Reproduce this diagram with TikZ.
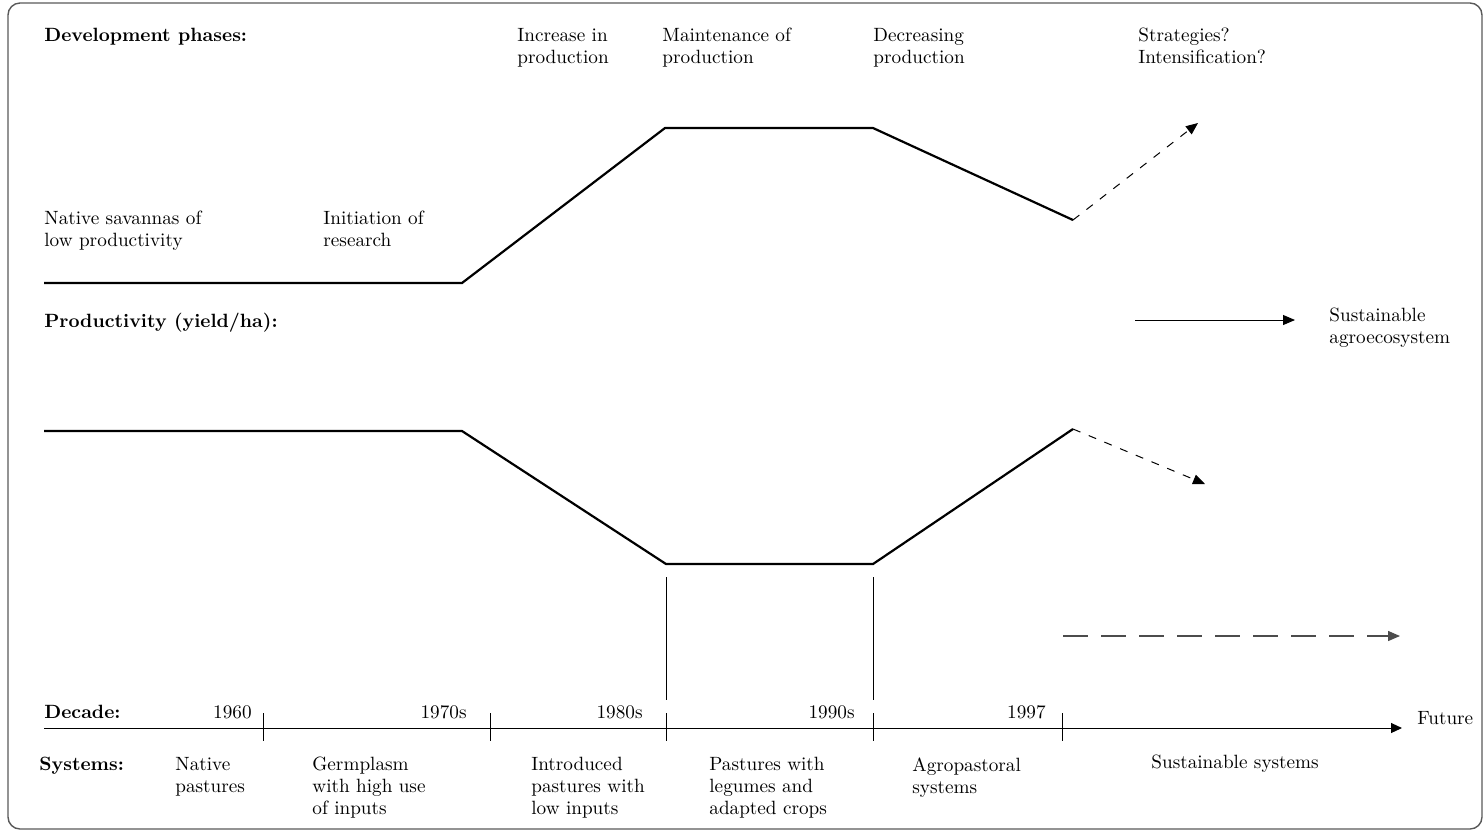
\documentclass[tikz,border=0pt]{standalone}
\usetikzlibrary{arrows.meta}
\begin{document}
\begin{tikzpicture}[x=0.5pt,y=-0.5pt,
  lbl/.style={anchor=north west, inner sep=0pt, align=left, font=\fontsize{9.6}{11}\selectfont},
  hdr/.style={lbl, font=\fontsize{9.6}{11}\selectfont\bfseries},
  yr/.style={anchor=north east, inner sep=0pt, font=\fontsize{9.6}{11}\selectfont},
  curve/.style={line width=1.1pt, line join=miter},
  thin/.style={line width=0.5pt},
  tip/.style={-{Triangle[length=6pt,width=5pt]}},
  shortdash/.style={thin, dash pattern=on 4pt off 4.5pt},
  longdash/.style={line width=0.7pt, draw=black!70, dash pattern=on 12.5pt off 6.5pt},
  frame/.style={draw=black!65, line width=0.7pt, rounded corners=6pt}]
\useasboundingbox (0,0) rectangle (1484,832);
\draw[frame] (8,3) rectangle (1482,829);

% headings
\node[hdr] (hdev) at (44,28) {Development phases:};
\node[hdr] (hprod) at (44,313) {Productivity (yield/ha):};
\node[hdr] (hdec) at (44,705) {Decade:};
\node[hdr] (hsys) at (39,757) {Systems:};

% phase labels
\node[lbl] (pinc) at (517,28) {Increase in\\production};
\node[lbl] (pmain) at (662,28) {Maintenance of\\production};
\node[lbl] (pdecr) at (873,28) {Decreasing\\production};
\node[lbl] (pstrat) at (1138,28) {Strategies?\\Intensification?};
\node[lbl] (pnat) at (44,211) {Native savannas of\\low productivity};
\node[lbl] (pinit) at (323,211) {Initiation of\\research};
\node[lbl] (psust) at (1329,308) {Sustainable\\agroecosystem};

% development curve
\coordinate (a0) at (44,283);
\coordinate (a1) at (462,283);
\coordinate (a2) at (665,128);
\coordinate (a3) at (873,128);
\coordinate (a4) at (1073,220);
\coordinate (a5) at (1198,123);
\draw[curve] (a0) -- (a1) -- (a2) -- (a3) -- (a4);
\draw[shortdash, tip] (a4) -- (a5);

% sustainable arrow
\coordinate (s0) at (1135,320);
\coordinate (s1) at (1295,320);
\draw[thin, tip] (s0) -- (s1);

% productivity curve
\coordinate (b0) at (44,431);
\coordinate (b1) at (462,431);
\coordinate (b2) at (666,564);
\coordinate (b3) at (873,564);
\coordinate (b4) at (1073,429);
\coordinate (b5) at (1205,484);
\draw[curve] (b0) -- (b1) -- (b2) -- (b3) -- (b4);
\draw[shortdash, tip] (b4) -- (b5);

% long dashed arrow
\coordinate (l0) at (1063,636);
\coordinate (l1) at (1400,636);
\draw[longdash, tip] (l0) -- (l1);

% verticals
\coordinate (v1t) at (666,577);
\coordinate (v1b) at (666,700);
\coordinate (v2t) at (873,577);
\coordinate (v2b) at (873,700);
\draw[thin] (v1t) -- (v1b);
\draw[thin] (v2t) -- (v2b);

% axis
\coordinate (ax0) at (44,728);
\coordinate (ax1) at (1402,728);
\draw[thin, -{Triangle[length=5.5pt,width=5pt]}] (ax0) -- (ax1);
\node[lbl] (fut) at (1417,711) {Future};
\foreach \n/\x in {k1/263,k2/490,k3/666,k4/873,k5/1062}{
  \coordinate (\n t) at (\x,713);
  \coordinate (\n b) at (\x,741);
  \draw[thin] (\n t) -- (\n b);
}
\node[yr] (y1) at (252,705) {1960};
\node[yr] (y2) at (467,705) {1970s};
\node[yr] (y3) at (643,705) {1980s};
\node[yr] (y4) at (855,705) {1990s};
\node[yr] (y5) at (1046,705) {1997};

% systems
\node[lbl] (s1n) at (175,757) {Native\\pastures};
\node[lbl] (s2n) at (312,757) {Germplasm\\with high use\\of inputs};
\node[lbl] (s3n) at (531,757) {Introduced\\pastures with\\low inputs};
\node[lbl] (s4n) at (709,757) {Pastures with\\legumes and\\adapted crops};
\node[lbl] (s5n) at (912,757) {Agropastoral\\systems};
\node[lbl] (s6n) at (1151,755) {Sustainable systems};
\end{tikzpicture}
\end{document}
